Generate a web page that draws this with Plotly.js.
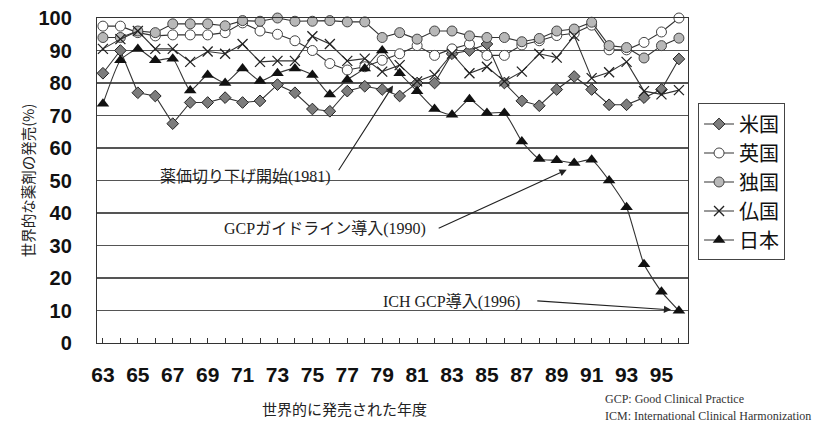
<!DOCTYPE html>
<html>
<head>
<meta charset="utf-8">
<script src="https://cdn.plot.ly/plotly-3.0.1.min.js"></script>
<style>html,body{margin:0;padding:0;background:#fff;}#chart{width:838px;height:423px;}</style>
</head>
<body>
<div id="chart"></div>
<script>
// ---- data ----
const years = [63,64,65,66,67,68,69,70,71,72,73,74,75,76,77,78,79,80,81,82,83,84,85,86,87,88,89,90,91,92,93,94,95,96];
const seriesNames = ['米国','英国','独国','仏国','日本'];
const usa     = [83,90,77,76,67.5,74,74,75.5,74,74.5,79.5,77,72,71.3,77.5,79,78,76,80,80,89,90,92,80,74.5,73,78,82,78,73.3,73.3,75.5,78,87.4];
const uk      = [97.5,97.5,95.5,94.5,94.8,94.8,94.8,95.5,98.5,96,95,93,90,86,84,85,87,89,91.5,88.5,90.5,92,88.5,88.5,91.7,93,94.6,95.3,97.8,90.2,90.2,92.5,95.7,100];
const germany = [94,94,96,95.5,98.2,98.2,98.2,97.6,99.2,99,100,99,99,99.2,98.8,98.8,94,95.5,93.5,96,96,94.5,94,94,92.7,93.7,96,96.6,98.7,91.5,90.9,87.7,91.5,93.8];
const france  = [90.5,93.5,96,90.5,90.5,86.5,89.7,89,92,86.5,86.8,86.8,94.4,92,86.8,87.5,83.5,85.5,80.5,82.5,89,83,85,80.5,83.5,89,87.8,94.5,81.5,83.3,86.5,77.5,76.5,77.8];
const japan   = [73.6,87,90.5,87,87.5,77.7,82.5,80,84.5,80.6,83,84.5,82.5,76.5,81,84.5,90,83,77.5,72,70.2,75,70.8,70.8,62,56.6,56.2,55.4,56.4,50,41.8,24.2,15.8,9.9];
const yTicks = [0,10,20,30,40,50,60,70,80,90,100];
const xTickText = years.map(y => (y % 2 === 1 ? String(y) : ''));

// annotation texts
const noteTexts = ['薬価切り下げ開始(1981)','GCPガイドライン導入(1990)','ICH GCP導入(1996)'];
const yTitle = '世界的な薬剤の発売(%)';
const xTitle = '世界的に発売された年度';
const footnotes = ['GCP: Good Clinical Practice','ICM: International Clinical Harmonization'];

// ---- traces ----
const lineCol = '#333';
const base = {type:'scatter', mode:'lines+markers', x: years, cliponaxis:false, line:{color:lineCol, width:1.1}};
const traces = [
  Object.assign({}, base, {name:seriesNames[0], y:usa, marker:{symbol:'diamond', size:9, color:'#7d7d7d', line:{color:'#222', width:1}}}),
  Object.assign({}, base, {name:seriesNames[1], y:uk, marker:{symbol:'circle', size:10, color:'#ffffff', line:{color:'#444', width:1}}}),
  Object.assign({}, base, {name:seriesNames[2], y:germany, marker:{symbol:'circle', size:10, color:'#b8b8b8', line:{color:'#444', width:1}}}),
  Object.assign({}, base, {name:seriesNames[3], y:france, marker:{symbol:'x-thin', size:10, color:'#222', line:{color:'#222', width:1.3}}}),
  Object.assign({}, base, {name:seriesNames[4], y:japan, line:{color:lineCol, width:1.1, shape:'spline', smoothing:0.5}, marker:{symbol:'triangle-up', size:11, color:'#111'}})
];

const serifCJK = '"Liberation Serif", "Noto Sans CJK JP", serif';
const sansCJK = '"Noto Sans CJK JP", sans-serif';
const tickFamily = '"Liberation Sans", Arial, sans-serif';

const annotations = [
  // text labels
  {x:76.18, y:51.2, xref:'x', yref:'y', text:noteTexts[0], showarrow:false, xanchor:'right', yanchor:'middle', font:{family:serifCJK, size:16, color:'#222'}},
  {x:81.62, y:35.1, xref:'x', yref:'y', text:noteTexts[1], showarrow:false, xanchor:'right', yanchor:'middle', font:{family:serifCJK, size:16, color:'#222'}},
  {x:87.0, y:12.9, xref:'x', yref:'y', text:noteTexts[2], showarrow:false, xanchor:'right', yanchor:'middle', font:{family:serifCJK, size:16, color:'#222'}},
  // arrows
  {x:79.62, y:79.2, ax:76.45, ay:52.7, xref:'x', yref:'y', axref:'x', ayref:'y', text:'', showarrow:true, arrowhead:2, arrowsize:1.3, arrowwidth:1.1, arrowcolor:'#222'},
  {x:89.57, y:53.3, ax:82.15, ay:35.1, xref:'x', yref:'y', axref:'x', ayref:'y', text:'', showarrow:true, arrowhead:2, arrowsize:1.3, arrowwidth:1.1, arrowcolor:'#222'},
  {x:95.55, y:10.2, ax:87.8, ay:13.0, xref:'x', yref:'y', axref:'x', ayref:'y', text:'', showarrow:true, arrowhead:2, arrowsize:1.3, arrowwidth:1.1, arrowcolor:'#222'},
  // x title
  {x:0.418, y:-0.2, xref:'paper', yref:'paper', text:xTitle, showarrow:false, xanchor:'center', yanchor:'middle', font:{family:sansCJK, size:15, color:'#222'}},
  // footnotes
  {x:0.856, y:-0.172, xref:'paper', yref:'paper', text:footnotes[0], showarrow:false, xanchor:'left', yanchor:'middle', font:{family:'"Liberation Serif", serif', size:12, color:'#333'}},
  {x:0.856, y:-0.225, xref:'paper', yref:'paper', text:footnotes[1], showarrow:false, xanchor:'left', yanchor:'middle', font:{family:'"Liberation Serif", serif', size:12, color:'#333'}}
];

const layout = {
  width:838, height:423,
  margin:{l:97, r:150, t:18, b:80, pad:0},
  paper_bgcolor:'#ffffff', plot_bgcolor:'#ffffff',
  showlegend:true,
  legend:{x:1.017, y:0.737, xanchor:'left', yanchor:'top', bordercolor:'#444', borderwidth:1, bgcolor:'#fff',
          font:{family:sansCJK, size:20, color:'#111'}, itemwidth:30, tracegroupgap:0},
  xaxis:{range:[62.66, 96.52], tickmode:'array', tickvals:years, ticktext:xTickText,
         ticks:'inside', ticklen:5, tickcolor:'#333', tickwidth:1,
         showline:true, linecolor:'#333', linewidth:1.2, mirror:true,
         showgrid:false, zeroline:false, ticklabelstandoff:13,
         tickfont:{family:tickFamily, size:21, color:'#111', weight:'bold'}},
  yaxis:{range:[0,100], tickmode:'array', tickvals:yTicks, ticks:'',
         showline:true, linecolor:'#333', linewidth:1.2, mirror:true,
         showgrid:true, gridcolor:'#555', gridwidth:1.2, zeroline:false, ticklabelstandoff:20,
         tickfont:{family:tickFamily, size:20, color:'#111', weight:'bold'},
         title:{text:yTitle, font:{family:sansCJK, size:14.5, color:'#222'}, standoff:0}},
  annotations:annotations
};

Plotly.newPlot('chart', traces, layout, {displayModeBar:false, staticPlot:true});
</script>
</body>
</html>
